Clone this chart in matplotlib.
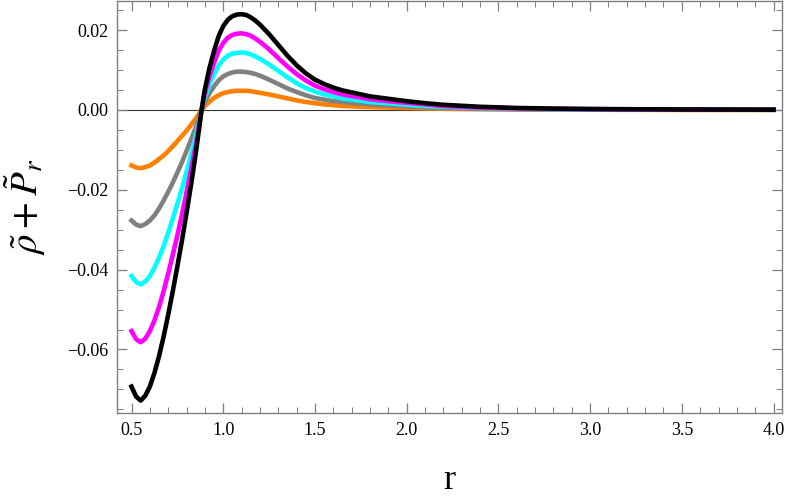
import matplotlib
matplotlib.use("Agg")
import matplotlib.pyplot as plt
from matplotlib.ticker import MultipleLocator, FixedLocator

r = [0.5, 0.525, 0.55, 0.575, 0.6, 0.625, 0.65, 0.675, 0.7, 0.725,
     0.75, 0.775, 0.8, 0.825, 0.85, 0.882, 0.9, 0.925, 0.95, 0.975,
     1.0, 1.025, 1.05, 1.075, 1.1, 1.125, 1.15, 1.175, 1.2, 1.25,
     1.3, 1.35, 1.4, 1.45, 1.5, 1.55, 1.6, 1.65, 1.7, 1.8,
     1.9, 2.0, 2.1, 2.2, 2.4, 2.6, 2.8, 3.0, 3.25, 3.5,
     3.75, 4.0]

black = [-0.0693, -0.0718, -0.0728, -0.0716, -0.0693, -0.0659, -0.0617, -0.0568, -0.0513, -0.0454,
         -0.0392, -0.0327, -0.0258, -0.0186, -0.0110, 0.0, 0.0052, 0.0105, 0.0148, 0.0185,
         0.0210, 0.0226, 0.0235, 0.0239, 0.0240, 0.0238, 0.0232, 0.0224, 0.0214, 0.0190,
         0.0163, 0.0136, 0.0112, 0.0092, 0.0076, 0.0065, 0.0056, 0.0049, 0.0044, 0.0034,
         0.0028, 0.0022, 0.0017, 0.0013, 0.0008, 0.0005, 0.00035, 0.00025, 0.00018, 0.00013,
         0.0001, 0.00008]
magenta = [-0.0554, -0.0574, -0.0582, -0.0573, -0.0554, -0.0527, -0.0494, -0.0454, -0.0410, -0.0363,
           -0.0314, -0.0262, -0.0206, -0.0149, -0.0088, 0.0, 0.0042, 0.0084, 0.0118, 0.0148,
           0.0168, 0.0181, 0.0188, 0.0191, 0.0192, 0.0190, 0.0186, 0.0179, 0.0171, 0.0152,
           0.0130, 0.0109, 0.0090, 0.0074, 0.0061, 0.0052, 0.0045, 0.0039, 0.0035, 0.0027,
           0.0022, 0.0018, 0.0014, 0.0010, 0.0006, 0.0004, 0.00028, 0.0002, 0.00014, 0.0001,
           0.00008, 0.00006]
cyan = [-0.0416, -0.0431, -0.0437, -0.0430, -0.0416, -0.0395, -0.0370, -0.0341, -0.0308, -0.0272,
        -0.0235, -0.0196, -0.0155, -0.0112, -0.0066, 0.0, 0.0031, 0.0063, 0.0089, 0.0111,
        0.0126, 0.0136, 0.0141, 0.0143, 0.0144, 0.0143, 0.0139, 0.0134, 0.0128, 0.0114,
        0.0098, 0.0082, 0.0067, 0.0055, 0.0046, 0.0039, 0.0034, 0.0029, 0.0026, 0.0020,
        0.0017, 0.0013, 0.0010, 0.0008, 0.0005, 0.0003, 0.0002, 0.00015, 0.00011, 0.00008,
        0.00006, 0.00005]
gray = [-0.0277, -0.0287, -0.0291, -0.0286, -0.0277, -0.0264, -0.0247, -0.0227, -0.0205, -0.0182,
        -0.0157, -0.0131, -0.0103, -0.0074, -0.0044, 0.0, 0.0021, 0.0042, 0.0059, 0.0074,
        0.0084, 0.0090, 0.0094, 0.0096, 0.0096, 0.0095, 0.0093, 0.0090, 0.0086, 0.0076,
        0.0065, 0.0054, 0.0045, 0.0037, 0.0030, 0.0026, 0.0022, 0.0020, 0.0018, 0.0014,
        0.0011, 0.0009, 0.0007, 0.0005, 0.0003, 0.0002, 0.00014, 0.0001, 0.00007, 0.00005,
        0.00004, 0.00003]
orange = [-0.0139, -0.0144, -0.0146, -0.0143, -0.0139, -0.0132, -0.0123, -0.0114, -0.0103, -0.0091,
          -0.0078, -0.0065, -0.0052, -0.0037, -0.0022, 0.0, 0.0010, 0.0021, 0.0030, 0.0037,
          0.0042, 0.0045, 0.0047, 0.0048, 0.0048, 0.0048, 0.0047, 0.0045, 0.0043, 0.0039,
          0.0034, 0.0029, 0.0024, 0.0020, 0.0017, 0.0014, 0.0012, 0.0010, 0.0009, 0.0007,
          0.0006, 0.0005, 0.0004, 0.0003, 0.0002, 0.00012, 0.00008, 0.00006, 0.00004, 0.00003,
          0.00002, 0.00002]

series = [(orange, "#FF8000"), (gray, "#808080"), (cyan, "#00FFFF"),
          (magenta, "#FF00FF"), (black, "#000000")]

xticks = [0.5, 1.0, 1.5, 2.0, 2.5, 3.0, 3.5, 4.0]
yticks = [-0.06, -0.04, -0.02, 0.00, 0.02]

plt.rcParams['mathtext.fontset'] = 'stix'
plt.rcParams['font.family'] = ['Liberation Serif', 'DejaVu Serif']

fig = plt.figure(figsize=(7.89, 4.98), dpi=100)
ax = fig.add_axes([0.1483, 0.170, 0.8428, 0.828])

ax.axhline(0, color="#333333", lw=0.8, zorder=1)
for vals, col in series:
    ax.plot(r, vals, color=col, lw=3.3, solid_joinstyle='round', zorder=2)

ax.set_xlim(0.421, 4.046)
ax.set_ylim(-0.076, 0.0273)

ax.xaxis.set_major_locator(FixedLocator(xticks))
ax.xaxis.set_minor_locator(MultipleLocator(0.1))
ax.yaxis.set_major_locator(FixedLocator(yticks))
ax.yaxis.set_minor_locator(MultipleLocator(0.005))
ax.set_xticklabels([f"{v:.1f}" for v in xticks])
ax.set_yticklabels([f"{v:.2f}".replace("-", "\u2212") for v in yticks])

fc = "#7f7f7f"
for s in ax.spines.values():
    s.set_color(fc)
    s.set_linewidth(1.0)
ax.tick_params(which='both', direction='in', top=True, right=True,
               color=fc, labelsize=13, labelcolor='black')
ax.tick_params(which='major', length=7, width=0.9, pad=6)
ax.tick_params(which='minor', length=4, width=0.7)

ax.set_xlabel("r", fontsize=26, labelpad=18)
ax.set_ylabel(r"$\tilde{\rho}+\tilde{P}_r$", fontsize=28, labelpad=14)

fig.savefig("out.png", dpi=100)
